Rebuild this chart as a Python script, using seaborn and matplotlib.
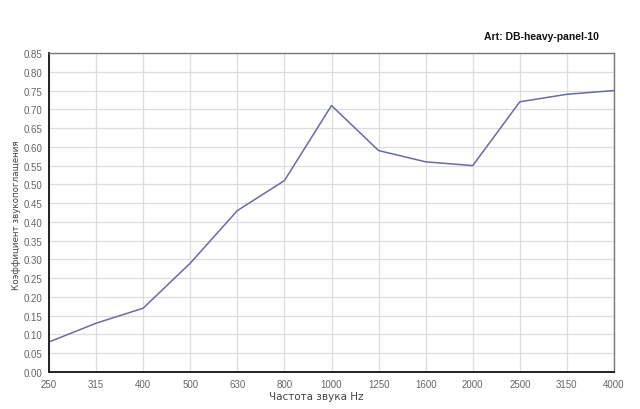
import matplotlib
matplotlib.use("Agg")
import matplotlib.pyplot as plt
import seaborn as sns
import pandas as pd
import numpy as np

freqs = ["250", "315", "400", "500", "630", "800", "1000", "1250", "1600", "2000", "2500", "3150", "4000"]
values = [0.08, 0.13, 0.17, 0.29, 0.43, 0.51, 0.71, 0.59, 0.56, 0.55, 0.72, 0.74, 0.75]
yticks = [round(i * 0.05, 2) for i in range(18)]

sns.set_theme(style="white")
plt.rcParams['font.family'] = ['Liberation Sans', 'DejaVu Sans']

df = pd.DataFrame({"pos": np.arange(len(freqs)), "val": values})

fig = plt.figure(figsize=(6.4, 4.1), dpi=100)
ax = fig.add_axes([49/640, 1 - 373/410, (614-49)/640, (373-54)/410])
sns.lineplot(data=df, x="pos", y="val", ax=ax, color="#6a6aa6", linewidth=1.1)

ax.set_xlim(0, len(freqs) - 1)
ax.set_ylim(0, 0.85)
ax.set_xticks(np.arange(len(freqs)))
ax.set_xticklabels(freqs)
ax.set_yticks(yticks)
ax.set_yticklabels([f"{v:.2f}" for v in yticks])
ax.grid(True, color="#dddddd", linewidth=0.9)
ax.set_axisbelow(True)
ax.tick_params(axis="both", labelsize=7, labelcolor="#666666", color="#333333",
               length=3, width=0.8, direction="out", pad=2)
for s in ["left", "bottom"]:
    ax.spines[s].set_color("#222222")
    ax.spines[s].set_linewidth(1.4)
for s in ["top", "right"]:
    ax.spines[s].set_color("#777777")
    ax.spines[s].set_linewidth(1.0)

ax.set_xlabel("")
ax.set_ylabel("")
fig.text(316/640, 1 - 397/410, "Частота звука Hz", ha="center", va="center",
         fontsize=7.5, color="#444444", family=["DejaVu Sans"])
fig.text(17/640, 1 - 215/410, "Коэффициент звукопоглащения", ha="center", va="center",
         rotation=90, fontsize=6.3, color="#444444", family=["DejaVu Sans"])
fig.text(599/640, 1 - 37/410, "Art: DB-heavy-panel-10", ha="right", va="center",
         fontsize=7.5, fontweight="bold", color="#111111")

fig.savefig("out.png", dpi=100, facecolor="white")
